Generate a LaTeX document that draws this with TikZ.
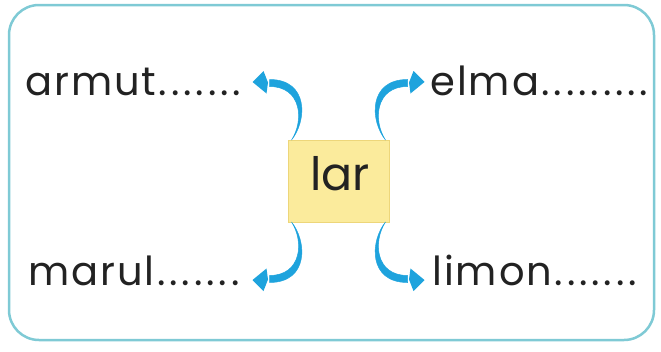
\documentclass[tikz,border=0pt]{standalone}
\usepackage{fontspec}
\setmainfont{Poppins}
\newfontfamily\wordfont{Poppins}[LetterSpace=5]
\definecolor{framec}{HTML}{7FCAD5}
\definecolor{arrowc}{HTML}{1EA3DD}
\definecolor{boxfill}{HTML}{FBEB9C}
\definecolor{boxline}{HTML}{EDD67A}
\definecolor{ink}{HTML}{222222}
\newcommand\lildot{\hbox to 12.3pt{\hss.\hss}}
\newcommand\dotrun[1]{\kern0.5pt\foreach \i in {1,...,#1}{\lildot}}
\begin{document}
\begin{tikzpicture}[x=1pt,y=-1pt,
  word/.style={anchor=base west,inner sep=0pt,font=\wordfont\fontsize{40}{40}\selectfont,text=ink},
  tagbox/.style={draw=boxline,fill=boxfill,line width=0.6pt,minimum width=101pt,minimum height=82pt,inner sep=0pt},
  tagtext/.style={anchor=base,inner sep=0pt,font=\fontsize{46}{46}\selectfont,text=ink},
  frame/.style={draw=framec,line width=2.5pt,rounded corners=30pt},
  bendarrow/.pic={
    \fill[arrowc,draw=arrowc,line width=0.5pt] (-47,-41) .. controls (-31.5,-60) and (-29.5,-101.5) .. (-69,-101.5)
       -- (-69,-94.5) .. controls (-36.5,-94.5) and (-34.5,-60) .. (-47,-41) -- cycle;
    \fill[arrowc] (-86,-99) -- (-75,-110) -- (-70.5,-98.5) -- (-72,-87.5) -- cycle;
  }]
\useasboundingbox (0,0) rectangle (661,351);
\draw[frame] (9,5) rectangle (654,340);
\node[tagbox] (box) at (338.5,181) {};
\node[tagtext] (lar) at (340,190) {lar};
\pic at (box.center) {bendarrow};
\pic[xscale=-1] at (box.center) {bendarrow};
\pic[yscale=-1] at (box.center) {bendarrow};
\pic[xscale=-1,yscale=-1] at (box.center) {bendarrow};
\node[word] (armut) at (25,95) {armut\dotrun{7}};
\node[word] (elma) at (430,95) {elma\dotrun{9}};
\node[word] (marul) at (28,285) {marul\dotrun{7}};
\node[word] (limon) at (432,285) {limon\dotrun{7}};
\end{tikzpicture}
\end{document}
